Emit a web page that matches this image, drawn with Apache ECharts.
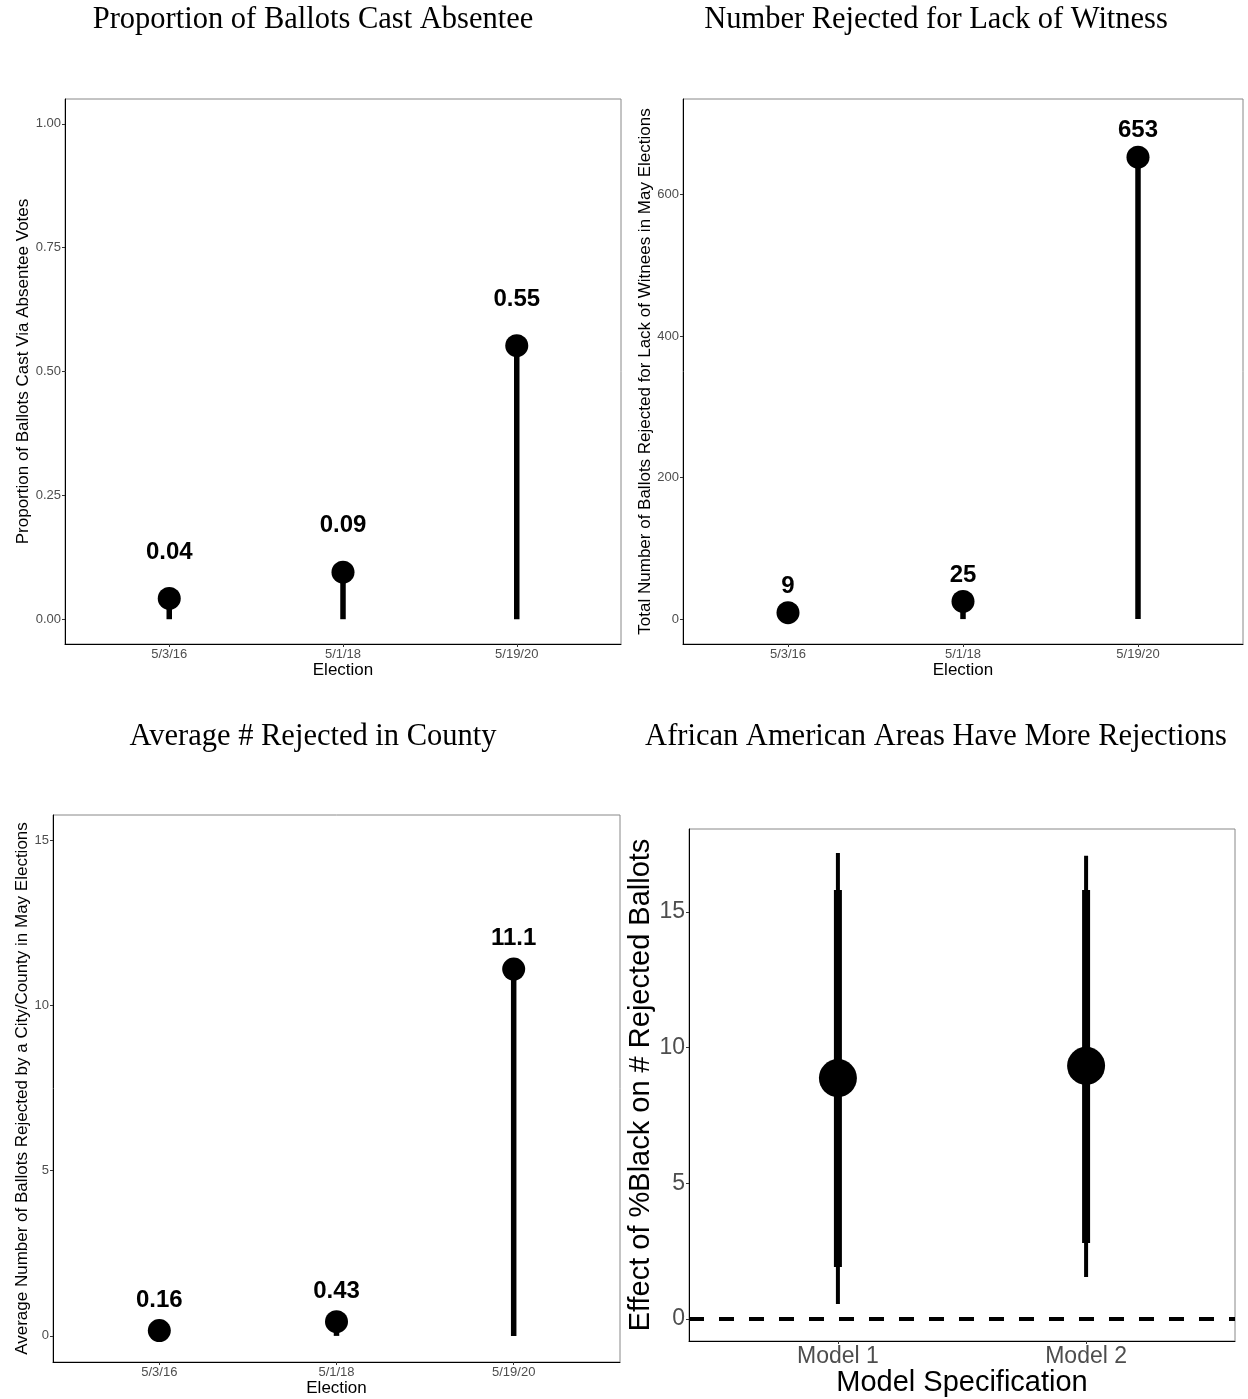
<!DOCTYPE html>
<html>
<head>
<meta charset="utf-8">
<script src="https://cdn.jsdelivr.net/npm/echarts@6/dist/echarts.min.js"></script>
<style>
  html, body { margin: 0; padding: 0; background: #fff; }
  #main { width: 1248px; height: 1399px; }
</style>
</head>
<body>
<div id="main"></div>
<script>
// elections on the x axis of the first three panels
var elections = ['5/3/16', '5/1/18', '5/19/20'];
var absenteeShare = [0.042, 0.095, 0.552];
var absenteeLabels = ['0.04', '0.09', '0.55'];
var witnessRejected = [9, 25, 653];
var witnessLabels = ['9', '25', '653'];
var avgRejected = [0.16, 0.43, 11.1];
var avgLabels = ['0.16', '0.43', '11.1'];
// regression panel
var models = ['Model 1', 'Model 2'];
var estimates = [8.88, 9.33];
var innerLow = [1.92, 2.80];
var innerHigh = [15.81, 15.81];
var outerLow = [0.55, 1.55];
var outerHigh = [17.18, 17.07];
// tick labels
var propTicks = [0, 0.25, 0.5, 0.75, 1];
var witnessTicks = [0, 200, 400, 600];
var avgTicks = [0, 5, 10, 15];
var effectTicks = [0, 5, 10, 15];

var SANS = 'Liberation Sans, Arial, sans-serif';
var SERIF = 'Liberation Serif, Times New Roman, serif';

var chart = echarts.init(document.getElementById('main'), null, { renderer: 'canvas' });

function xAxisFor(grid, cats, max, fs, name, nameFs, nameGap) {
  var pos = cats.map(function (c, i) { return i + 1; });
  return {
    type: 'value', gridIndex: grid, min: 0.4, max: max,
    name: name, nameLocation: 'middle', nameGap: nameGap,
    nameTextStyle: { fontFamily: SANS, fontSize: nameFs, color: '#000' },
    axisLine: { show: true, onZero: false, lineStyle: { color: '#000', width: 1 } },
    axisTick: { show: true, customValues: pos, length: 3, lineStyle: { color: '#333' } },
    axisLabel: {
      customValues: pos, margin: 4, fontFamily: SANS, fontSize: fs, color: '#4d4d4d',
      formatter: function (v) { return cats[Math.round(v) - 1]; }
    },
    splitLine: { show: false }
  };
}

function yAxisFor(grid, min, max, ticks, fmt, fs, name, nameFs, nameGap) {
  return {
    type: 'value', gridIndex: grid, min: min, max: max,
    name: name, nameLocation: 'middle', nameGap: nameGap,
    nameTextStyle: { fontFamily: SANS, fontSize: nameFs, color: '#000' },
    axisLine: { show: true, onZero: false, lineStyle: { color: '#000', width: 1 } },
    axisTick: { show: true, customValues: ticks, length: 3, lineStyle: { color: '#333' } },
    axisLabel: { customValues: ticks, margin: 4, fontFamily: SANS, fontSize: fs, color: '#4d4d4d', formatter: fmt },
    splitLine: { show: false }
  };
}

function stemRender(params, api) {
  var x = api.value(0);
  var p0 = api.coord([x, 0]);
  var p1 = api.coord([x, api.value(1)]);
  return {
    type: 'line',
    shape: { x1: p0[0], y1: p0[1], x2: p1[0], y2: p1[1] },
    style: { stroke: '#000', lineWidth: 5.5 }
  };
}

function rangeRender(width) {
  return function (params, api) {
    var x = api.value(0);
    var p0 = api.coord([x, api.value(1)]);
    var p1 = api.coord([x, api.value(2)]);
    return {
      type: 'line',
      shape: { x1: p0[0], y1: p0[1], x2: p1[0], y2: p1[1] },
      style: { stroke: '#000', lineWidth: width }
    };
  };
}

function lollipop(grid, values, labels, dist) {
  var pts = values.map(function (v, i) { return [i + 1, v]; });
  return [
    {
      type: 'custom', xAxisIndex: grid, yAxisIndex: grid, data: pts,
      encode: { x: 0, y: 1 }, renderItem: stemRender, z: 2, silent: true
    },
    {
      type: 'scatter', xAxisIndex: grid, yAxisIndex: grid, data: pts,
      symbolSize: 23, itemStyle: { color: '#000', opacity: 1 }, z: 3,
      label: {
        show: true, position: 'top', distance: dist,
        fontFamily: SANS, fontSize: 24, fontWeight: 'bold', color: '#000',
        formatter: function (p) { return labels[p.dataIndex]; }
      }
    }
  ];
}

var gridBox = { show: true, borderColor: '#888', borderWidth: 1, backgroundColor: 'transparent' };

var option = {
  animation: false,
  backgroundColor: '#fff',
  title: [
    { text: 'Proportion of Ballots Cast Absentee', left: 308, top: -1, textAlign: 'center' },
    { text: 'Number Rejected for Lack of Witness', left: 931, top: -1, textAlign: 'center' },
    { text: 'Average # Rejected in County', left: 308, top: 716, textAlign: 'center' },
    { text: 'African American Areas Have More Rejections', left: 931, top: 716, textAlign: 'center' }
  ].map(function (t) {
    t.textStyle = { fontFamily: SERIF, fontSize: 30.5, fontWeight: 'normal', color: '#000' };
    return t;
  }),
  grid: [
    Object.assign({ left: 65, top: 99, width: 556, height: 545 }, gridBox),
    Object.assign({ left: 683, top: 99, width: 560, height: 545 }, gridBox),
    Object.assign({ left: 53, top: 815, width: 567, height: 547 }, gridBox),
    Object.assign({ left: 689, top: 829, width: 546, height: 512 }, gridBox)
  ],
  xAxis: [
    xAxisFor(0, elections, 3.6, 13, 'Election', 17, 18),
    xAxisFor(1, elections, 3.6, 13, 'Election', 17, 18),
    xAxisFor(2, elections, 3.6, 13, 'Election', 17, 17),
    xAxisFor(3, models, 2.6, 23, 'Model Specification', 29, 24)
  ],
  yAxis: [
    yAxisFor(0, -0.05, 1.05, propTicks, function (v) { return v.toFixed(2); }, 13,
      'Proportion of Ballots Cast Via Absentee Votes', 17, 33),
    yAxisFor(1, -35.2, 735.2, witnessTicks, null, 13,
      'Total Number of Ballots Rejected for Lack of Witnees in May Elections', 17, 29),
    yAxisFor(2, -0.79, 15.76, avgTicks, null, 13,
      'Average Number of Ballots Rejected by a City/County in May Elections', 17, 21),
    yAxisFor(3, -0.81, 18.06, effectTicks, null, 23,
      'Effect of %Black on # Rejected Ballots', 29, 33)
  ],
  series: []
    .concat(lollipop(0, absenteeShare, absenteeLabels, 23))
    .concat(lollipop(1, witnessRejected, witnessLabels, 3))
    .concat(lollipop(2, avgRejected, avgLabels, 7))
    .concat([
      {
        type: 'custom', xAxisIndex: 3, yAxisIndex: 3, silent: true, z: 2,
        data: models.map(function (m, i) { return [i + 1, outerLow[i], outerHigh[i]]; }),
        encode: { x: 0, y: [1, 2] }, renderItem: rangeRender(4)
      },
      {
        type: 'custom', xAxisIndex: 3, yAxisIndex: 3, silent: true, z: 2,
        data: models.map(function (m, i) { return [i + 1, innerLow[i], innerHigh[i]]; }),
        encode: { x: 0, y: [1, 2] }, renderItem: rangeRender(8)
      },
      {
        type: 'scatter', xAxisIndex: 3, yAxisIndex: 3, z: 3,
        data: models.map(function (m, i) { return [i + 1, estimates[i]]; }),
        symbolSize: 38, itemStyle: { color: '#000', opacity: 1 },
        markLine: {
          silent: true, symbol: 'none', animation: false,
          label: { show: false },
          lineStyle: { color: '#000', width: 4, type: [15, 15] },
          data: [{ yAxis: 0 }]
        }
      }
    ])
};

chart.setOption(option);
</script>
</body>
</html>
